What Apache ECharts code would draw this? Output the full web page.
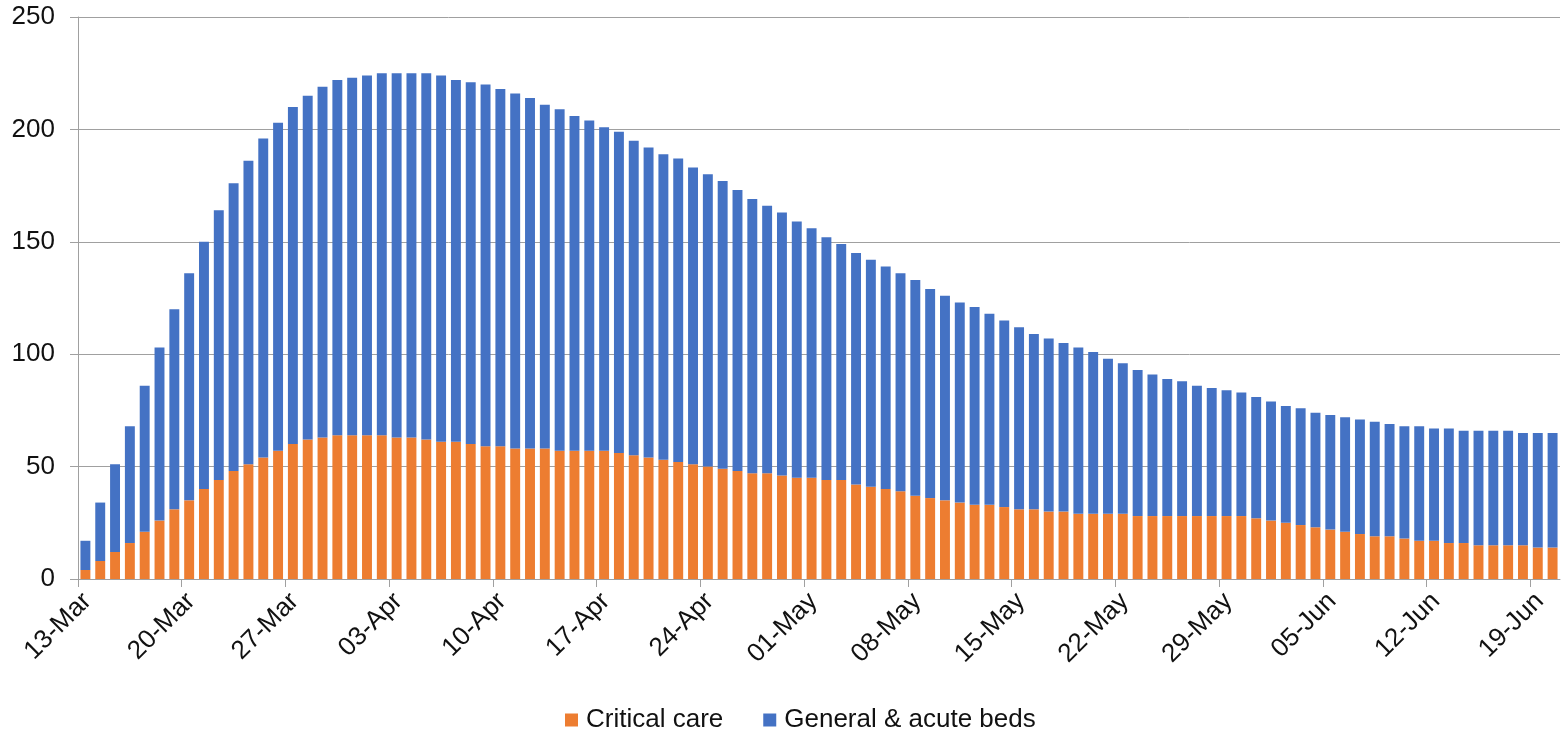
<!DOCTYPE html>
<html>
<head>
<meta charset="utf-8">
<script src="https://cdn.jsdelivr.net/npm/echarts@6/dist/echarts.min.js"></script>
<style>
  html, body { margin: 0; padding: 0; background: #ffffff; }
  #chart { width: 1566px; height: 735px; }
</style>
</head>
<body>
<div id="chart"></div>
<script>
// Occupied beds per day, 13 March to 20 June
const criticalCare = [
  4, 8, 12, 16, 21, 26, 31, 35, 40, 44, 48, 51, 54, 57, 60, 62, 63,
  64, 64, 64, 64, 63, 63, 62, 61, 61, 60, 59, 59, 58, 58, 58, 57, 57,
  57, 57, 56, 55, 54, 53, 52, 51, 50, 49, 48, 47, 47, 46, 45, 45, 44,
  44, 42, 41, 40, 39, 37, 36, 35, 34, 33, 33, 32, 31, 31, 30, 30, 29,
  29, 29, 29, 28, 28, 28, 28, 28, 28, 28, 28, 27, 26, 25, 24, 23, 22,
  21, 20, 19, 19, 18, 17, 17, 16, 16, 15, 15, 15, 15, 14, 14
];

const generalAcute = [
  13, 26, 39, 52, 65, 77, 89, 101, 110, 120, 128, 135, 142, 146, 150, 153, 156,
  158, 159, 160, 161, 162, 162, 163, 163, 161, 161, 161, 159, 158, 156, 153, 152, 149,
  147, 144, 143, 140, 138, 136, 135, 132, 130, 128, 125, 122, 119, 117, 114, 111, 108,
  105, 103, 101, 99, 97, 96, 93, 91, 89, 88, 85, 83, 81, 78, 77, 75, 74,
  72, 69, 67, 65, 63, 61, 60, 58, 57, 56, 55, 54, 53, 52, 52, 51, 51,
  51, 51, 51, 50, 50, 51, 50, 51, 50, 51, 51, 51, 50, 51, 51
];

const seriesNames = ['Critical care', 'General & acute beds'];
const yTicks = { min: 0, max: 250, step: 50 };
const monthNames = ['Jan', 'Feb', 'Mar', 'Apr', 'May', 'Jun', 'Jul', 'Aug', 'Sep', 'Oct', 'Nov', 'Dec'];

// Day labels "DD-Mon"; the date axis has one extra entry that closes the last day band
const dayLabels = [];
for (let i = 0; i <= criticalCare.length; i++) {
  const d = new Date(2020, 2, 13 + i);
  dayLabels.push(String(d.getDate()).padStart(2, '0') + '-' + monthNames[d.getMonth()]);
}
const barDays = dayLabels.slice(0, criticalCare.length);

const FONT = '"Liberation Sans", Arial, sans-serif';
const AXIS_GREY = '#a0a0a0';
const TEXT = '#111111';

const chart = echarts.init(document.getElementById('chart'), null, { renderer: 'canvas' });

chart.setOption({
  animation: false,
  backgroundColor: '#ffffff',
  textStyle: { fontFamily: FONT },
  grid: { left: 78, right: 6, top: 17, bottom: 156, containLabel: false },
  legend: {
    data: seriesNames,
    left: 560,
    top: 702,
    icon: 'rect',
    itemWidth: 13,
    itemHeight: 13,
    itemGap: 40,
    textStyle: { fontFamily: FONT, fontSize: 26, color: TEXT, padding: [0, 0, 0, 3] }
  },
  xAxis: [
    {
      // one band per day, carries the bars
      type: 'category',
      data: barDays,
      boundaryGap: true,
      axisLine: { show: false },
      axisTick: { show: false },
      axisLabel: { show: false },
      splitLine: { show: false }
    },
    {
      // weekly date ticks placed on the day boundaries
      type: 'category',
      data: dayLabels,
      boundaryGap: false,
      position: 'bottom',
      axisLine: { show: true, lineStyle: { color: AXIS_GREY, width: 1 } },
      axisTick: { show: true, interval: 6, length: 8, lineStyle: { color: AXIS_GREY, width: 1 } },
      axisLabel: {
        interval: 6,
        rotate: 45,
        margin: 9,
        align: 'right',
        verticalAlign: 'top',
        fontFamily: FONT,
        fontSize: 26,
        color: TEXT
      },
      splitLine: { show: false }
    }
  ],
  yAxis: {
    type: 'value',
    min: yTicks.min,
    max: yTicks.max,
    interval: yTicks.step,
    axisLine: { show: true, lineStyle: { color: AXIS_GREY, width: 1 } },
    axisTick: { show: true, length: 8, lineStyle: { color: AXIS_GREY, width: 1 } },
    axisLabel: { margin: 23, fontFamily: FONT, fontSize: 26, color: TEXT },
    splitLine: { show: true, lineStyle: { color: AXIS_GREY, width: 1 } }
  },
  series: [
    {
      name: seriesNames[0],
      type: 'bar',
      stack: 'beds',
      xAxisIndex: 0,
      data: criticalCare,
      barCategoryGap: '33%',
      itemStyle: { color: '#ED7D31' }
    },
    {
      name: seriesNames[1],
      type: 'bar',
      stack: 'beds',
      xAxisIndex: 0,
      data: generalAcute,
      barCategoryGap: '33%',
      itemStyle: { color: '#4472C4' }
    }
  ]
});
</script>
</body>
</html>
